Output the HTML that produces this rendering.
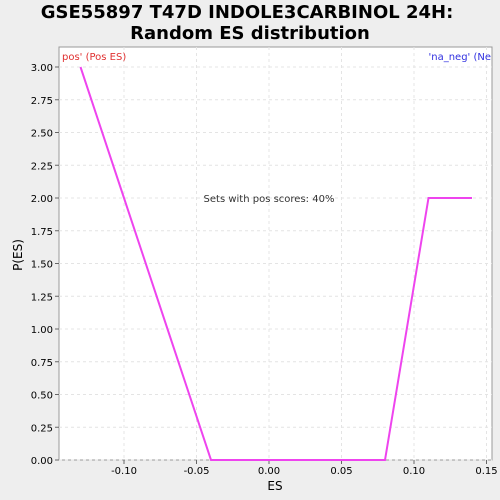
<!DOCTYPE html>
<html><head><meta charset="utf-8"><style>
body{margin:0;background:#eeeeee;}
svg{display:block;font-family:"DejaVu Sans","Liberation Sans",sans-serif;}
</style></head><body>
<svg width="500" height="500">
<text x="247" y="18" text-anchor="middle" font-size="18" font-weight="bold">GSE55897 T47D INDOLE3CARBINOL 24H:</text>
<text x="250" y="39" text-anchor="middle" font-size="18" font-weight="bold">Random ES distribution</text>
<rect x="59" y="47" width="433" height="413" fill="#fff" stroke="#999"/>
<g id="grid"></g><g id="axes"></g>
<polyline id="line" fill="none" stroke="#ee44ee" stroke-width="2"/>
<text x="62" y="60" font-size="10" fill="#e03030">pos' (Pos ES)</text>
<text x="491" y="60" font-size="10" fill="#3030e0" text-anchor="end">'na_neg' (Ne</text>
<text x="269" y="202" font-size="10" fill="#333" text-anchor="middle">Sets with pos scores: 40%</text>
<text x="275" y="490" font-size="12" text-anchor="middle">ES</text>
<text x="22" y="255" font-size="12" text-anchor="middle" transform="rotate(-90 22 255)">P(ES)</text>
</svg>
<script>
const esValues=[-0.13,-0.10,-0.07,-0.04,0.08,0.11,0.14];
const pValues=[3,2,1,0,0,2,2];
const xTicks=[-0.10,-0.05,0.00,0.05,0.10,0.15];
const xTickLabels=["-0.10","-0.05","0.00","0.05","0.10","0.15"];
const yTicks=[0,0.25,0.5,0.75,1,1.25,1.5,1.75,2,2.25,2.5,2.75,3];
const X=v=>269+v*1450, Y=v=>460-v*131;
const ns="http://www.w3.org/2000/svg";
const g=document.getElementById('grid'), a=document.getElementById('axes');
xTicks.forEach((t,i)=>{
 const l=document.createElementNS(ns,'line');
 l.setAttribute('x1',X(t));l.setAttribute('x2',X(t));l.setAttribute('y1',47);l.setAttribute('y2',460);
 l.setAttribute('stroke','#e4e4e4');l.setAttribute('stroke-dasharray','3,3');
 
 
 g.appendChild(l);
 const tk=document.createElementNS(ns,'line');
 tk.setAttribute('x1',X(t));tk.setAttribute('x2',X(t));tk.setAttribute('y1',460);tk.setAttribute('y2',464);tk.setAttribute('stroke','#666');
 
 
 a.appendChild(tk);
 const tx=document.createElementNS(ns,'text');
 tx.setAttribute('x',X(t));tx.setAttribute('y',474);tx.setAttribute('font-size','10');tx.setAttribute('text-anchor','middle');
 tx.textContent=xTickLabels[i];
 
 
 a.appendChild(tx);
});
yTicks.forEach(t=>{
 const l=document.createElementNS(ns,'line');
 l.setAttribute('x1',59);l.setAttribute('x2',492);l.setAttribute('y1',Y(t));l.setAttribute('y2',Y(t));
 l.setAttribute('stroke','#e4e4e4');l.setAttribute('stroke-dasharray','3,3');
 
 
 g.appendChild(l);
 const tk=document.createElementNS(ns,'line');
 tk.setAttribute('x1',55);tk.setAttribute('x2',59);tk.setAttribute('y1',Y(t));tk.setAttribute('y2',Y(t));tk.setAttribute('stroke','#666');
 
 
 a.appendChild(tk);
 const tx=document.createElementNS(ns,'text');
 tx.setAttribute('x',53);tx.setAttribute('y',Y(t)+4);tx.setAttribute('font-size','10');tx.setAttribute('text-anchor','end');
 tx.textContent=t.toFixed(2);
 
 
 a.appendChild(tx);
});
document.getElementById('line').setAttribute('points',esValues.map((v,i)=>X(v)+','+Y(pValues[i])).join(' '));
</script>
</body></html>
